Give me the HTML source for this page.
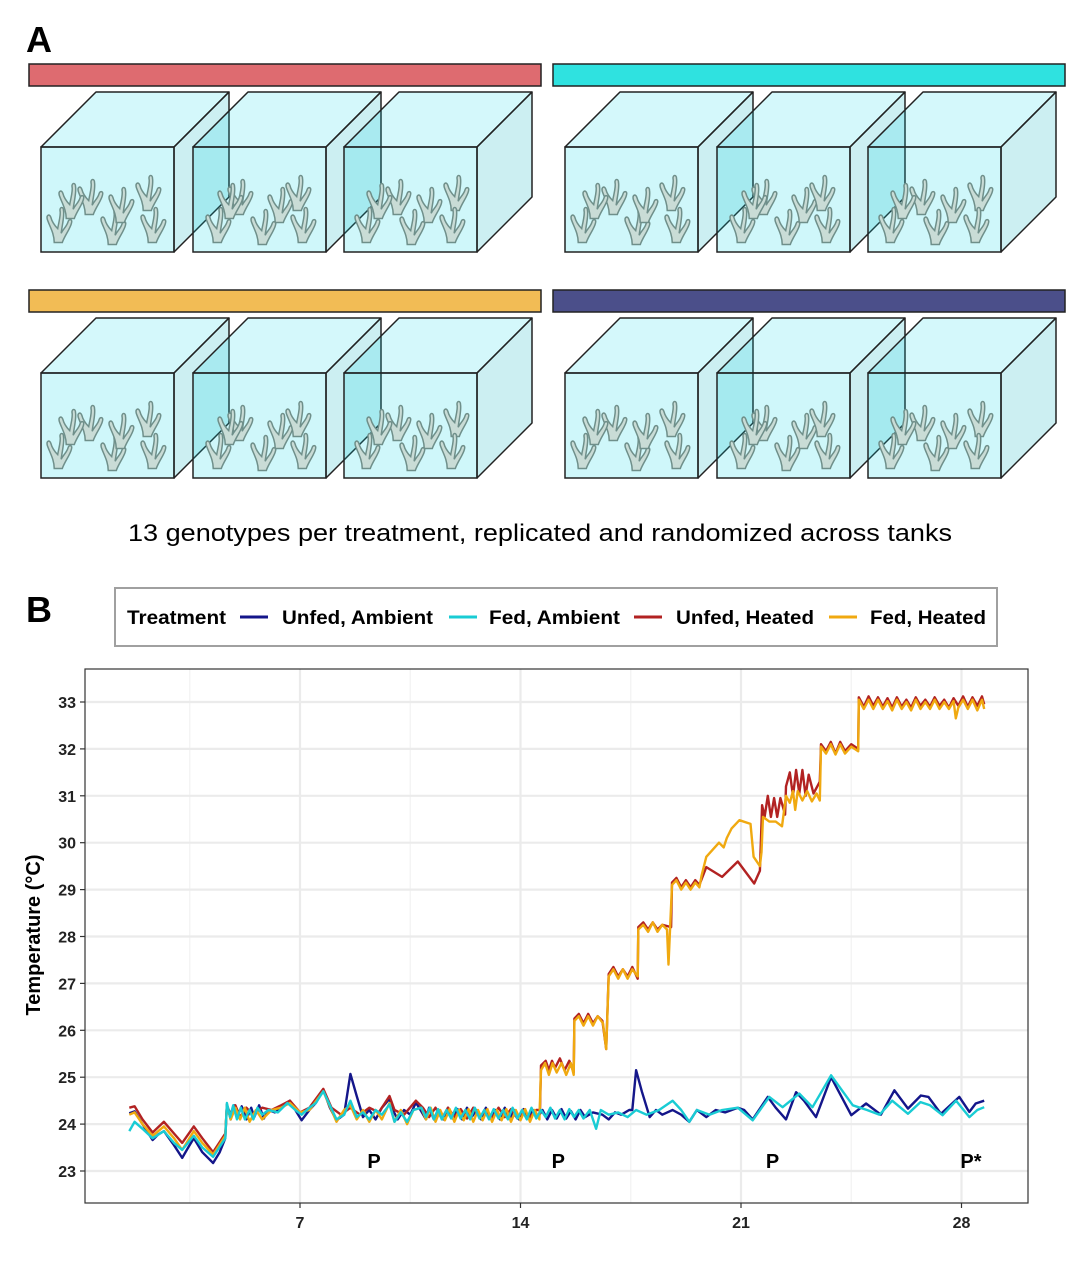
<!DOCTYPE html>
<html><head><meta charset="utf-8"><style>
html,body{margin:0;padding:0;background:#fff;}
svg{display:block;font-family:"Liberation Sans",Arial,sans-serif;}
</style></head><body>
<svg id="fig" width="1066" height="1262" viewBox="0 0 1066 1262" xmlns="http://www.w3.org/2000/svg">
<defs>
<symbol id="coral" viewBox="0 0 26 36" width="26" height="36">
<path d="M8 34 C8 26 4 20 2 14 C1 10 4 9 5 12 C6 16 9 20 11 22 C12 16 14 10 13 6 C13 3 16 3 16 6 C17 11 15 18 14 26 C16 22 19 20 20 16 C21 13 24 14 23 17 C22 22 17 28 15 34 Z" fill="#c9dcd6" stroke="#6f8f8a" stroke-width="1.3"/>
</symbol>
</defs>
<text x="26" y="52" font-size="36" font-weight="bold">A</text>
<text x="26" y="622" font-size="36" font-weight="bold">B</text>
<g id="tanks"></g>
<text x="540" y="541" font-size="24" text-anchor="middle" textLength="824" lengthAdjust="spacingAndGlyphs">13 genotypes per treatment, replicated and randomized across tanks</text>

<g>
<rect x="115" y="588" width="882" height="58" fill="#fff" stroke="#a0a0a0" stroke-width="2"/>
<text x="127" y="624" font-size="19" font-weight="bold" textLength="99" lengthAdjust="spacingAndGlyphs">Treatment</text>
<g><line x1="240" y1="617" x2="268" y2="617" stroke="#14168a" stroke-width="3"/><text x="282" y="624" font-size="19" font-weight="bold" textLength="151" lengthAdjust="spacingAndGlyphs">Unfed, Ambient</text></g>
<g><line x1="449" y1="617" x2="477" y2="617" stroke="#19ccd4" stroke-width="3"/><text x="489" y="624" font-size="19" font-weight="bold" textLength="131" lengthAdjust="spacingAndGlyphs">Fed, Ambient</text></g>
<g><line x1="634" y1="617" x2="662" y2="617" stroke="#b22222" stroke-width="3"/><text x="676" y="624" font-size="19" font-weight="bold" textLength="138" lengthAdjust="spacingAndGlyphs">Unfed, Heated</text></g>
<g><line x1="829" y1="617" x2="857" y2="617" stroke="#f0a910" stroke-width="3"/><text x="870" y="624" font-size="19" font-weight="bold" textLength="116" lengthAdjust="spacingAndGlyphs">Fed, Heated</text></g>
</g>

<g id="chart"></g>
<text transform="translate(40,935) rotate(-90)" font-size="20" font-weight="bold" text-anchor="middle">Temperature (°C)</text>
</svg>
<script>
const NS="http://www.w3.org/2000/svg";
function mk(tag,attrs,parent){const e=document.createElementNS(NS,tag);for(const k in attrs)e.setAttribute(k,attrs[k]);parent.appendChild(e);return e;}

/* ---------- Panel A: tanks ---------- */
const tanksG=document.getElementById('tanks');
const barColors=["#de6b70","#2fe2e0","#f2bc55","#4b4f8a"];
const groupX=[29,553];
const rowY=[64,290];
const coralSpots=[[8,50],[36,22],[56,52],[70,30],[94,18],[96,50],[20,26]];
let gi=0;
rowY.forEach((ry,ri)=>{
  groupX.forEach((gx,ci)=>{
    const bar=mk('rect',{x:gx,y:ry,width:512,height:22,fill:barColors[gi],stroke:'#222','stroke-width':1.5},tanksG);
    
    
    const fy=ry+83;
    [12,164,315].forEach((off,ti)=>{
      const fx=gx+off, w=133, h=105, dx=55, dy=-55;
      const g=mk('g',{},tanksG);
      
      
      mk('polygon',{points:`${fx},${fy} ${fx+dx},${fy+dy} ${fx+w+dx},${fy+dy} ${fx+w},${fy}`,fill:'rgba(0,215,232,0.17)',stroke:'#222','stroke-width':1.5,'stroke-linejoin':'round'},g);
      mk('polygon',{points:`${fx+w},${fy} ${fx+w+dx},${fy+dy} ${fx+w+dx},${fy+h+dy} ${fx+w},${fy+h}`,fill:'rgba(0,175,190,0.2)',stroke:'#222','stroke-width':1.5,'stroke-linejoin':'round'},g);
      mk('rect',{x:fx,y:fy,width:w,height:h,fill:'rgba(0,213,230,0.19)',stroke:'#222','stroke-width':1.5},g);
      coralSpots.forEach((p,k)=>{
        mk('use',{href:'#coral',x:fx+p[0]+((ti*7+k*3)%9)-4,y:fy+p[1]+6,width:30,height:42},g);
      });
    });
    gi++;
  });
});

/* ---------- Panel B: chart data ---------- */
const xTicks=[7,14,21,28];
const yTicks=[23,24,25,26,27,28,29,30,31,32,33];
const passLabels=["P","P","P","P*"];
const passDays=[9.35,15.2,22.0,28.3];

const unfedAmbient=[[1.58,24.23],[1.75,24.27],[2.0,24.0],[2.32,23.66],[2.5,23.78],[2.68,23.85],[3.0,23.55],[3.26,23.28],[3.45,23.5],[3.63,23.7],[3.9,23.4],[4.24,23.17],[4.45,23.4],[4.63,23.7],[4.68,24.42],[4.8,24.1],[4.9,24.4],[5.0,24.15],[5.15,24.38],[5.3,24.1],[5.45,24.35],[5.55,24.15],[5.7,24.4],[5.85,24.12],[6.0,24.3],[6.2,24.25],[6.4,24.35],[6.68,24.5],[6.85,24.3],[7.05,24.08],[7.3,24.3],[7.5,24.45],[7.74,24.73],[7.95,24.35],[8.16,24.08],[8.4,24.2],[8.6,25.07],[8.8,24.6],[9.0,24.15],[9.2,24.3],[9.4,24.1],[9.6,24.35],[9.84,24.54],[9.95,24.3],[10.1,24.1],[10.3,24.3],[10.5,24.2],[10.68,24.46],[10.85,24.27],[11.0,24.1],[11.1,24.35],[11.25,24.1],[11.4,24.3],[11.55,24.1],[11.7,24.35],[11.85,24.12],[12.0,24.32],[12.15,24.1],[12.3,24.35],[12.45,24.15],[12.6,24.3],[12.75,24.1],[12.9,24.35],[13.05,24.12],[13.2,24.3],[13.35,24.1],[13.5,24.35],[13.65,24.12],[13.8,24.3],[13.95,24.1],[14.1,24.32],[14.25,24.12],[14.4,24.3],[14.55,24.15],[14.7,24.3],[14.85,24.1],[15.0,24.3],[15.15,24.12],[15.3,24.32],[15.45,24.12],[15.6,24.28],[15.75,24.1],[15.9,24.3],[16.05,24.15],[16.3,24.25],[16.6,24.2],[16.8,24.1],[17.0,24.25],[17.2,24.2],[17.45,24.3],[17.55,24.3],[17.67,25.15],[17.85,24.7],[18.1,24.15],[18.3,24.3],[18.5,24.2],[18.83,24.3],[19.1,24.2],[19.36,24.05],[19.6,24.3],[19.9,24.15],[20.2,24.3],[20.5,24.25],[20.9,24.35],[21.1,24.3],[21.37,24.1],[21.85,24.58],[22.1,24.35],[22.43,24.1],[22.75,24.68],[23.0,24.5],[23.38,24.15],[23.86,25.0],[24.5,24.19],[24.97,24.44],[25.44,24.2],[25.87,24.72],[26.3,24.33],[26.71,24.61],[26.95,24.58],[27.35,24.22],[27.93,24.58],[28.25,24.26],[28.45,24.44],[28.72,24.5]];

const fedAmbient=[[1.58,23.85],[1.75,24.05],[2.0,23.9],[2.32,23.7],[2.68,23.85],[3.0,23.6],[3.26,23.45],[3.63,23.75],[3.9,23.5],[4.24,23.3],[4.63,23.7],[4.68,24.45],[4.78,24.15],[4.88,24.4],[5.0,24.1],[5.12,24.35],[5.25,24.1],[5.4,24.3],[5.52,24.1],[5.65,24.35],[5.8,24.2],[6.0,24.3],[6.3,24.25],[6.6,24.45],[6.85,24.3],[7.05,24.2],[7.3,24.35],[7.5,24.45],[7.74,24.7],[7.95,24.4],[8.16,24.1],[8.4,24.2],[8.6,24.5],[8.8,24.15],[9.0,24.25],[9.2,24.1],[9.4,24.3],[9.6,24.2],[9.84,24.42],[10.0,24.05],[10.2,24.25],[10.4,24.05],[10.6,24.3],[10.85,24.35],[11.0,24.15],[11.12,24.35],[11.25,24.1],[11.38,24.32],[11.5,24.1],[11.65,24.3],[11.8,24.12],[11.95,24.35],[12.1,24.12],[12.25,24.3],[12.4,24.1],[12.55,24.35],[12.7,24.12],[12.85,24.3],[13.0,24.1],[13.15,24.32],[13.3,24.12],[13.45,24.3],[13.6,24.1],[13.75,24.35],[13.9,24.12],[14.05,24.3],[14.2,24.1],[14.35,24.35],[14.5,24.12],[14.65,24.3],[14.8,24.15],[14.95,24.35],[15.1,24.12],[15.25,24.3],[15.4,24.1],[15.55,24.32],[15.7,24.15],[15.85,24.3],[16.0,24.12],[16.2,24.3],[16.4,23.9],[16.55,24.3],[16.8,24.2],[17.1,24.25],[17.4,24.15],[17.67,24.3],[18.0,24.2],[18.4,24.3],[18.83,24.5],[19.1,24.3],[19.36,24.05],[19.6,24.3],[20.0,24.2],[20.4,24.3],[20.9,24.35],[21.37,24.08],[21.9,24.58],[22.32,24.36],[22.85,24.65],[23.27,24.36],[23.86,25.04],[24.55,24.4],[25.0,24.3],[25.4,24.2],[25.8,24.5],[26.3,24.22],[26.7,24.47],[27.0,24.4],[27.4,24.19],[27.83,24.5],[28.25,24.15],[28.5,24.3],[28.72,24.36]];

const unfedHeated=[[1.58,24.35],[1.75,24.38],[2.0,24.1],[2.32,23.82],[2.68,24.05],[3.0,23.8],[3.26,23.6],[3.63,23.95],[3.9,23.7],[4.24,23.4],[4.63,23.8],[4.68,24.4],[4.8,24.2],[4.95,24.4],[5.1,24.15],[5.3,24.35],[5.5,24.2],[5.8,24.35],[6.1,24.3],[6.4,24.4],[6.68,24.5],[7.0,24.25],[7.3,24.35],[7.74,24.75],[8.0,24.35],[8.3,24.2],[8.6,24.35],[8.9,24.2],[9.2,24.35],[9.5,24.25],[9.84,24.6],[10.0,24.3],[10.3,24.2],[10.68,24.5],[10.9,24.35],[11.1,24.15],[11.3,24.35],[11.5,24.12],[11.7,24.35],[11.9,24.15],[12.1,24.32],[12.3,24.12],[12.5,24.35],[12.7,24.15],[12.9,24.3],[13.1,24.12],[13.3,24.35],[13.5,24.15],[13.7,24.32],[13.9,24.12],[14.1,24.3],[14.3,24.15],[14.5,24.3],[14.62,24.3],[14.65,25.25],[14.8,25.35],[14.9,25.15],[15.0,25.35],[15.1,25.2],[15.25,25.4],[15.4,25.15],[15.55,25.35],[15.69,25.1],[15.71,26.25],[15.85,26.35],[16.0,26.15],[16.15,26.35],[16.3,26.15],[16.45,26.3],[16.6,26.2],[16.72,25.6],[16.8,27.2],[16.95,27.35],[17.1,27.15],[17.25,27.3],[17.4,27.15],[17.55,27.35],[17.72,27.1],[17.74,28.2],[17.9,28.3],[18.05,28.15],[18.2,28.3],[18.35,28.15],[18.5,28.25],[18.78,28.2],[18.81,29.15],[18.95,29.25],[19.1,29.05],[19.25,29.2],[19.4,29.05],[19.55,29.2],[19.68,29.1],[19.9,29.48],[20.4,29.27],[20.9,29.6],[21.42,29.13],[21.6,29.4],[21.67,30.8],[21.75,30.55],[21.85,31.0],[21.95,30.55],[22.05,30.95],[22.15,30.55],[22.25,30.95],[22.4,30.6],[22.43,31.2],[22.55,31.5],[22.65,31.0],[22.75,31.55],[22.85,31.05],[22.95,31.55],[23.05,31.0],[23.15,31.45],[23.3,31.05],[23.5,31.3],[23.54,32.1],[23.7,31.95],[23.85,32.15],[24.0,31.9],[24.15,32.15],[24.3,31.95],[24.5,32.1],[24.72,32.0],[24.74,33.1],[24.9,32.9],[25.05,33.12],[25.2,32.92],[25.35,33.1],[25.5,32.9],[25.65,33.08],[25.8,32.88],[25.95,33.1],[26.1,32.9],[26.25,33.05],[26.4,32.88],[26.55,33.1],[26.7,32.92],[26.85,33.05],[27.0,32.9],[27.15,33.1],[27.3,32.92],[27.45,33.05],[27.6,32.88],[27.75,33.08],[27.9,32.92],[28.05,33.12],[28.2,32.9],[28.35,33.1],[28.5,32.92],[28.65,33.12],[28.72,32.95]];

const fedHeated=[[1.58,24.2],[1.75,24.25],[2.0,24.0],[2.32,23.75],[2.68,23.95],[3.0,23.7],[3.26,23.45],[3.63,23.85],[3.9,23.6],[4.24,23.35],[4.63,23.75],[4.68,24.4],[4.8,24.1],[4.95,24.35],[5.1,24.1],[5.25,24.35],[5.4,24.05],[5.6,24.3],[5.8,24.1],[6.1,24.3],[6.4,24.35],[6.68,24.45],[7.0,24.25],[7.3,24.3],[7.74,24.7],[8.0,24.3],[8.16,24.05],[8.4,24.3],[8.6,24.4],[8.8,24.1],[9.0,24.3],[9.2,24.05],[9.4,24.3],[9.6,24.1],[9.84,24.45],[10.0,24.05],[10.2,24.3],[10.4,24.0],[10.6,24.3],[10.85,24.35],[11.0,24.1],[11.15,24.35],[11.3,24.05],[11.45,24.3],[11.6,24.08],[11.75,24.32],[11.9,24.05],[12.05,24.3],[12.2,24.08],[12.35,24.32],[12.5,24.05],[12.65,24.3],[12.8,24.08],[12.95,24.32],[13.1,24.05],[13.25,24.3],[13.4,24.08],[13.55,24.32],[13.7,24.05],[13.85,24.3],[14.0,24.08],[14.15,24.32],[14.3,24.05],[14.45,24.3],[14.6,24.1],[14.65,25.15],[14.78,25.3],[14.9,25.05],[15.02,25.3],[15.15,25.1],[15.3,25.3],[15.45,25.05],[15.6,25.3],[15.69,25.05],[15.71,26.2],[15.85,26.3],[16.0,26.1],[16.15,26.3],[16.3,26.1],[16.45,26.3],[16.62,26.15],[16.72,25.6],[16.8,27.15],[16.95,27.3],[17.1,27.1],[17.25,27.3],[17.4,27.1],[17.55,27.3],[17.72,27.15],[17.74,28.15],[17.9,28.25],[18.05,28.1],[18.2,28.3],[18.35,28.1],[18.5,28.25],[18.65,28.15],[18.7,27.4],[18.81,29.1],[18.95,29.2],[19.1,29.0],[19.25,29.15],[19.4,29.0],[19.55,29.15],[19.68,29.05],[19.75,29.3],[19.9,29.7],[20.1,29.85],[20.3,30.0],[20.45,29.9],[20.55,30.1],[20.7,30.3],[20.95,30.48],[21.3,30.4],[21.4,29.7],[21.6,29.5],[21.65,29.8],[21.7,30.55],[21.9,30.45],[22.1,30.45],[22.3,30.35],[22.43,31.0],[22.55,30.85],[22.65,31.1],[22.72,30.7],[22.8,31.1],[22.95,30.9],[23.1,31.1],[23.25,30.88],[23.4,31.05],[23.5,30.9],[23.54,32.05],[23.7,31.9],[23.85,32.1],[24.0,31.88],[24.15,32.1],[24.3,31.9],[24.5,32.05],[24.72,31.95],[24.74,33.05],[24.9,32.85],[25.05,33.05],[25.2,32.85],[25.35,33.05],[25.5,32.85],[25.65,33.02],[25.8,32.82],[25.95,33.05],[26.1,32.85],[26.25,33.0],[26.4,32.82],[26.55,33.05],[26.7,32.85],[26.85,33.0],[27.0,32.85],[27.15,33.05],[27.3,32.85],[27.45,33.0],[27.6,32.85],[27.75,33.02],[27.82,32.65],[27.9,32.88],[28.05,33.05],[28.2,32.85],[28.35,33.05],[28.5,32.82],[28.65,33.05],[28.72,32.85]];

/* ---------- axes ---------- */
const PL=85,PR=1028,PT=669,PB=1203;
function xS(d){return 79.5+d*31.5;}
function yS(t){return 702+(33-t)*46.9;}
const chart=document.getElementById('chart');
const panel=mk('rect',{x:PL,y:PT,width:PR-PL,height:PB-PT,fill:'#fff'},chart);


[3.5,10.5,17.5,24.5].forEach(d=>{
  const l=mk('line',{x1:xS(d),x2:xS(d),y1:PT,y2:PB,stroke:'#f2f2f2','stroke-width':1.2},chart);
  
  
});
yTicks.forEach(t=>{
  const l=mk('line',{x1:PL,x2:PR,y1:yS(t),y2:yS(t),stroke:'#ebebeb','stroke-width':2.2},chart);
  
  
  const tk=mk('line',{x1:PL-5,x2:PL,y1:yS(t),y2:yS(t),stroke:'#333','stroke-width':1.2},chart);
  
  
  const tx=mk('text',{x:PL-9,y:yS(t)+6,'text-anchor':'end','font-size':16,'font-weight':'bold',fill:'#222'},chart);
  tx.textContent=t;
  
  
});
xTicks.forEach(d=>{
  const l=mk('line',{x1:xS(d),x2:xS(d),y1:PT,y2:PB,stroke:'#ebebeb','stroke-width':2.2},chart);
  
  
  const tk=mk('line',{x1:xS(d),x2:xS(d),y1:PB,y2:PB+5,stroke:'#333','stroke-width':1.2},chart);
  
  
  const tx=mk('text',{x:xS(d),y:PB+25,'text-anchor':'middle','font-size':16,'font-weight':'bold',fill:'#222'},chart);
  tx.textContent=d;
  
  
});
function line(data,color,name){
  const p=mk('path',{d:'M'+data.map(q=>xS(q[0]).toFixed(1)+','+yS(q[1]).toFixed(1)).join('L'),fill:'none',stroke:color,'stroke-width':2.4,'stroke-linejoin':'round'},chart);
  
  
}
line(unfedAmbient,'#14168a','series-unfed-ambient');
line(unfedHeated,'#b22222','series-unfed-heated');
line(fedHeated,'#f0a910','series-fed-heated');
line(fedAmbient,'#19ccd4','series-fed-ambient');
passLabels.forEach((s,i)=>{
  const tx=mk('text',{x:xS(passDays[i]),y:1168,'text-anchor':'middle','font-size':20,'font-weight':'bold',fill:'#000'},chart);
  tx.textContent=s;
  
  
});
const border=mk('rect',{x:PL,y:PT,width:PR-PL,height:PB-PT,fill:'none',stroke:'#333','stroke-width':1.2},chart);


</script>
</body></html>
